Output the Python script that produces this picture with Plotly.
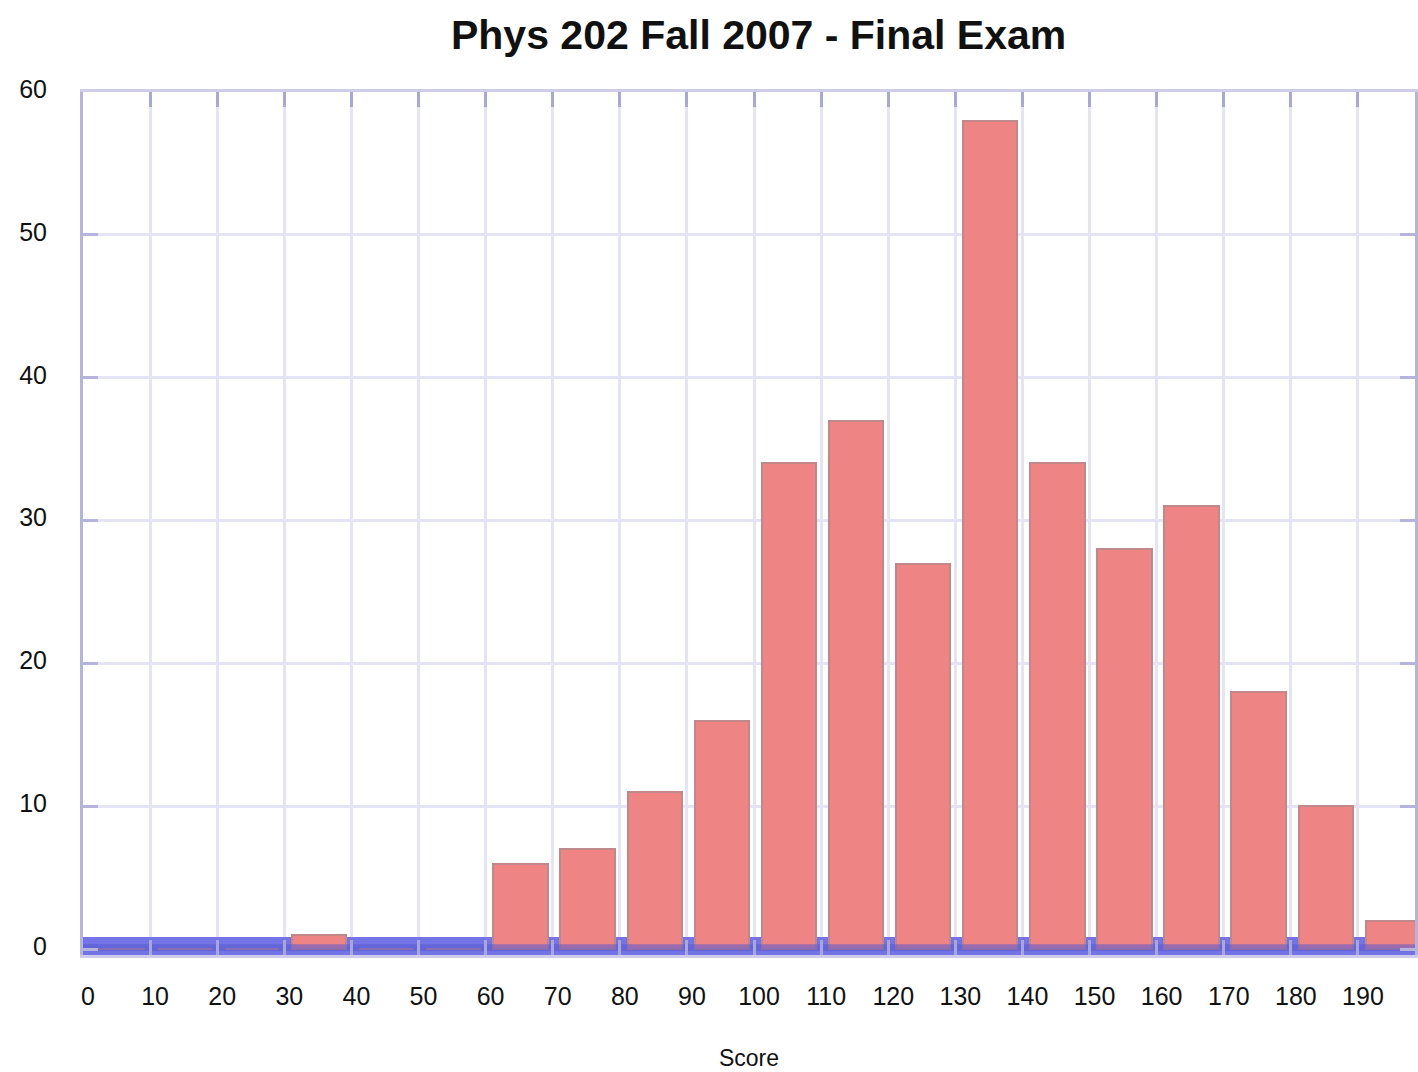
import plotly.graph_objects as go

bin_starts = [0, 10, 20, 30, 40, 50, 60, 70, 80, 90, 100, 110, 120, 130, 140, 150, 160, 170, 180, 190]
counts = [0, 0, 0, 1, 0, 0, 6, 7, 11, 16, 34, 37, 27, 58, 34, 28, 31, 18, 10, 2]
x_ticks = list(range(0, 200, 10))
y_ticks = [0, 10, 20, 30, 40, 50, 60]
title_text = "Phys 202 Fall 2007 - Final Exam"
x_title = "Score"

centers = [b + 5.2 for b in bin_starts]

fig = go.Figure()

# blue baseline band (behind bars)
fig.add_trace(go.Bar(
    x=[b + 5 for b in bin_starts], y=[1.25] * len(bin_starts), base=-0.4, width=10,
    marker=dict(color="#7474E6", line=dict(width=0)), hoverinfo="skip", showlegend=False))

# histogram bars
fig.add_trace(go.Bar(
    x=centers, y=counts, width=8.1,
    marker=dict(color="#EE8484", line=dict(color="#C08888", width=2)),
    showlegend=False))

# translucent overlay on the baseline
fig.add_trace(go.Scatter(
    x=[0, 200], y=[0.1, 0.1], mode="lines",
    line=dict(color="rgba(90,90,210,0.55)", width=7), hoverinfo="skip", showlegend=False))

fig.update_layout(
    width=1418, height=1072,
    paper_bgcolor="white", plot_bgcolor="white",
    margin=dict(l=83, r=0, t=92, b=117),
    barmode="overlay", bargap=0,
    font=dict(family="Liberation Sans, Arial, sans-serif", color="#111111"),
    title=dict(text="<b>" + title_text + "</b>", x=0.535, xanchor="center", y=0.968, yanchor="middle",
               font=dict(size=41, color="#111111")),
    xaxis=dict(
        range=[0, 198.5], tickvals=x_ticks, ticktext=[str(v) for v in x_ticks],
        showgrid=True, gridcolor="#E4E4F4", gridwidth=3,
        zeroline=False, showline=True, linecolor="#CDCDEA", linewidth=3, mirror="ticks",
        ticks="inside", ticklen=15, tickwidth=3, tickcolor="#A8A8D8",
        ticklabelstandoff=17, ticklabelshift=5, tickfont=dict(size=25, color="#111111"),
        title=dict(text=x_title, font=dict(size=23, color="#111111"), standoff=41),
    ),
    yaxis=dict(
        range=[-0.4, 60], tickvals=y_ticks,
        showgrid=True, gridcolor="#E4E4F4", gridwidth=3,
        zeroline=False, showline=True, linecolor="#B4B4DC", linewidth=3, mirror="ticks",
        ticks="inside", ticklen=15, tickwidth=3, tickcolor="#B4B4DC",
        ticklabelstandoff=28, ticklabelshift=-3, tickfont=dict(size=25, color="#111111"),
    ),
)

fig.write_html("out.html", config={"displayModeBar": False},
               post_script="document.body.style.margin='0';document.body.style.overflow='hidden';")
